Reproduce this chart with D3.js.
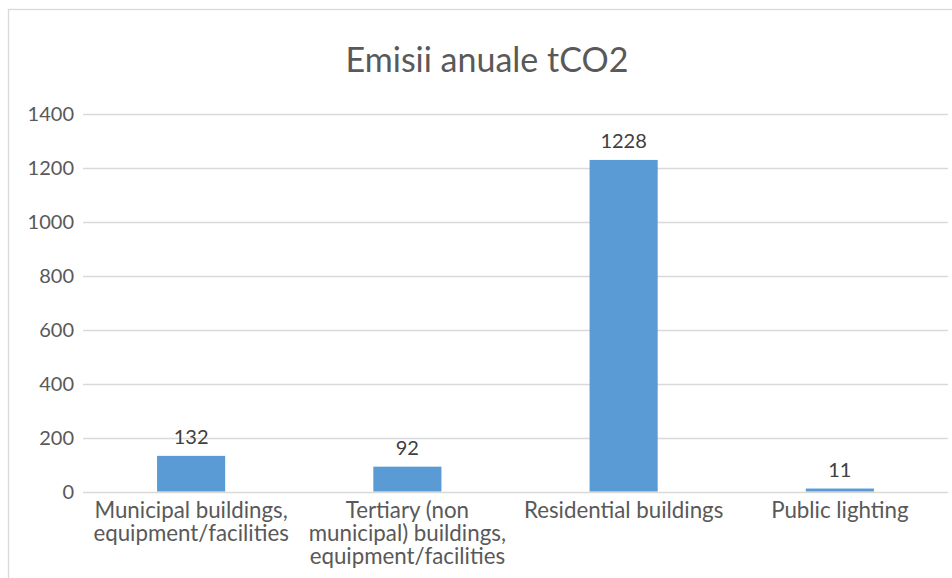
<!DOCTYPE html>
<html lang="en">
<head>
    <meta charset="UTF-8" />
    <title>Emisii anuale tCO2</title>
    <script src="https://cdn.jsdelivr.net/npm/d3@7"></script>
    <style>
        html,
        body {
            margin: 0;
            background: #fff;
        }

        svg text {
            font-family: Lato, "Open Sans", sans-serif;
        }
    </style>
</head>
<body>
    <div id="chart"></div>

    <script>
        // data
        const categories = [
            ["Municipal buildings,", "equipment/facilities"],
            ["Tertiary (non", "municipal) buildings,", "equipment/facilities"],
            ["Residential buildings"],
            ["Public lighting"]
        ];
        const values = [132, 92, 1228, 11];
        const yTicks = [0, 200, 400, 600, 800, 1000, 1200, 1400];
        const title = "Emisii anuale tCO2";

        const width = 952, height = 578;
        const margin = { top: 113.5, right: 4, bottom: 86.5, left: 83 };

        const svg = d3.select("#chart")
            .append("svg")
            .attr("width", width)
            .attr("height", height);

        // chart area border
        svg.append("rect")
            .attr("x", 8.5)
            .attr("y", 9.5)
            .attr("width", 970)
            .attr("height", 600)
            .attr("fill", "#fff")
            .attr("stroke", "#d9d9d9")
            .attr("stroke-width", 1.3);

        svg.append("text")
            .attr("x", 487)
            .attr("y", 72)
            .attr("text-anchor", "middle")
            .attr("fill", "#595959")
            .style("font-size", "34px")
            .text(title);

        const x = d3.scaleBand()
            .domain(d3.range(categories.length))
            .range([margin.left, width - margin.right])
            .paddingInner(0.685)
            .paddingOuter(0.3425);

        const y = d3.scaleLinear()
            .domain([0, 1400])
            .range([height - margin.bottom, margin.top]);

        // gridlines
        svg.append("g")
            .selectAll("line")
            .data(yTicks)
            .join("line")
            .attr("x1", margin.left)
            .attr("x2", width - margin.right)
            .attr("y1", d => Math.round(y(d)) + 0.5)
            .attr("y2", d => Math.round(y(d)) + 0.5)
            .attr("stroke", "#d9d9d9")
            .attr("stroke-width", 1.3);

        // y axis labels
        const yAxis = svg.append("g")
            .attr("transform", `translate(${margin.left},0)`)
            .call(d3.axisLeft(y).tickValues(yTicks).tickFormat(d3.format("d")).tickSize(0).tickPadding(9));
        yAxis.select(".domain").remove();
        yAxis.selectAll("text")
            .attr("fill", "#595959")
            .attr("dy", "0.36em")
            .style("font-size", "20px");

        // bars
        svg.append("g")
            .selectAll("rect")
            .data(values)
            .join("rect")
            .attr("x", (d, i) => x(i))
            .attr("y", d => y(d))
            .attr("width", x.bandwidth())
            .attr("height", d => y(0) - y(d))
            .attr("fill", "#5b9bd5");

        // value labels
        svg.append("g")
            .selectAll("text")
            .data(values)
            .join("text")
            .attr("x", (d, i) => x(i) + x.bandwidth() / 2)
            .attr("y", d => y(d) - 12)
            .attr("text-anchor", "middle")
            .attr("fill", "#404040")
            .style("font-size", "20px")
            .text(d => d);

        // category labels (multi-line)
        svg.append("g")
            .selectAll("text")
            .data(categories)
            .join("text")
            .attr("text-anchor", "middle")
            .attr("fill", "#595959")
            .style("font-size", "22.3px")
            .each(function (lines, i) {
                const cx = x(i) + x.bandwidth() / 2;
                d3.select(this).selectAll("tspan")
                    .data(lines)
                    .join("tspan")
                    .attr("x", cx)
                    .attr("y", (l, j) => 518 + j * 23)
                    .text(l => l);
            });
    </script>
</body>
</html>
